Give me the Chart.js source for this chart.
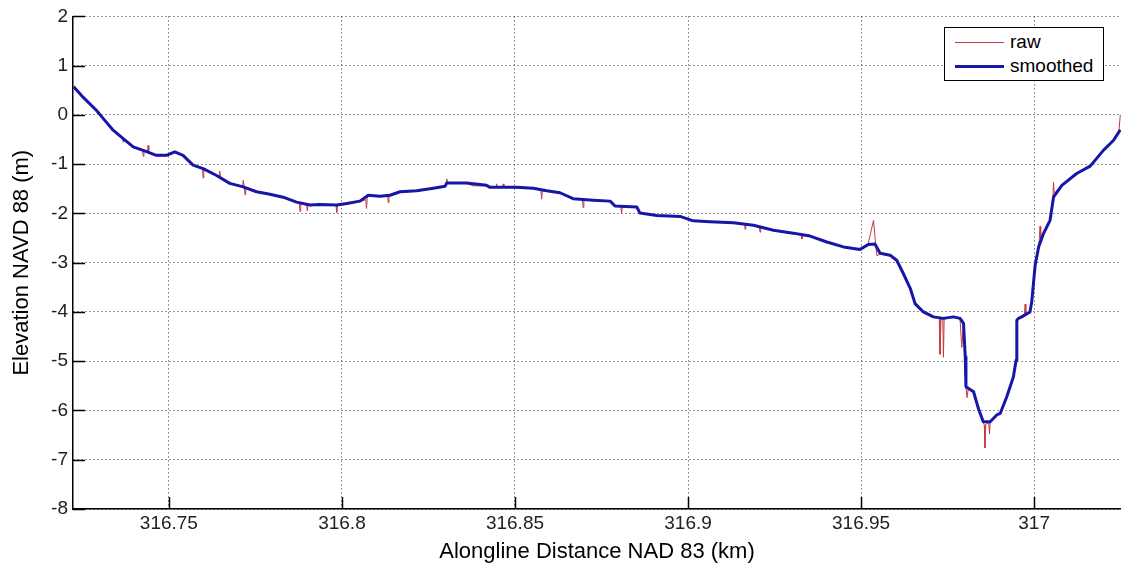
<!DOCTYPE html>
<html>
<head>
<meta charset="utf-8">
<script src="https://cdn.jsdelivr.net/npm/chart.js@4.4.1/dist/chart.umd.min.js"></script>
<style>
  html, body { margin: 0; padding: 0; background: #fff; }
  #wrap { position: relative; width: 1121px; height: 565px; }
  #profileChart { display: block; }
  .legend-box {
    position: absolute; left: 944px; top: 27px; width: 158px; height: 52px;
    border: 1px solid #000; background: #fff;
    font-family: 'Liberation Sans', Arial, sans-serif; font-size: 19px; color: #000;
  }
  .legend-row { position: absolute; left: 0; height: 22px; width: 100%; }
  .legend-swatch { position: absolute; left: 10px; width: 49px; top: 50%; }
  .legend-text { position: absolute; left: 65px; top: 0; line-height: 22px; }
</style>
</head>
<body>
<div id="wrap">
  <canvas id="profileChart" width="1121" height="565"></canvas>
  <div class="legend-box" id="profileLegend"></div>
</div>
<script>
// axis ranges and ticks
const X_MIN = 316.7223;
const X_MAX = 317.0251;
const xTicks = [316.75, 316.8, 316.85, 316.9, 316.95, 317];
const yTicks = [-8, -7, -6, -5, -4, -3, -2, -1, 0, 1, 2];

// smoothed profile (km, m)
const smoothX = [
  316.7225, 316.7252, 316.7291, 316.7310, 316.7339, 316.7368, 316.7397, 316.7426, 316.7464, 316.7493,
  316.7517, 316.7541, 316.7570, 316.7599, 316.7638, 316.7676, 316.7715, 316.7753, 316.7792, 316.7830,
  316.7869, 316.7908, 316.7936, 316.7985, 316.8014, 316.8052, 316.8076, 316.8110, 316.8139, 316.8168,
  316.8216, 316.8264, 316.8298, 316.8303, 316.8360, 316.8418, 316.8428, 316.8505, 316.8553, 316.8592,
  316.8630, 316.8668, 316.8726, 316.8775, 316.8789, 316.8852, 316.8861, 316.8910, 316.8977, 316.9015,
  316.9064, 316.9131, 316.9189, 316.9247, 316.9304, 316.9353, 316.9401, 316.9449, 316.9497, 316.9521,
  316.9540, 316.9555, 316.9584, 316.9603, 316.9622, 316.9642, 316.9656, 316.9680, 316.9709, 316.9738,
  316.9767, 316.9786, 316.9796, 316.9801, 316.9803, 316.9825, 316.9839, 316.9853, 316.9873, 316.9892,
  316.9902, 316.9921, 316.9940, 316.9948, 316.9950, 316.9955, 316.9964, 316.9988, 316.9993, 317.0003,
  317.0013, 317.0027, 317.0046, 317.0056, 317.0080, 317.0123, 317.0162, 317.0200, 317.0229, 317.0249,
];
const smoothY = [
  0.57, 0.36, 0.09, -0.07, -0.31, -0.48, -0.65, -0.72, -0.82, -0.82,
  -0.75, -0.82, -1.02, -1.09, -1.23, -1.39, -1.46, -1.56, -1.61, -1.67,
  -1.77, -1.83, -1.82, -1.83, -1.80, -1.75, -1.63, -1.65, -1.63, -1.56,
  -1.54, -1.49, -1.45, -1.38, -1.38, -1.43, -1.47, -1.47, -1.49, -1.54,
  -1.58, -1.70, -1.73, -1.75, -1.85, -1.87, -1.99, -2.04, -2.06, -2.15,
  -2.17, -2.19, -2.24, -2.34, -2.40, -2.46, -2.58, -2.68, -2.73, -2.63,
  -2.62, -2.81, -2.85, -2.95, -3.22, -3.52, -3.83, -4.00, -4.10, -4.13,
  -4.10, -4.13, -4.23, -4.91, -5.52, -5.62, -5.96, -6.23, -6.23, -6.09,
  -6.06, -5.72, -5.32, -4.98, -4.17, -4.13, -4.10, -4.00, -3.80, -3.05,
  -2.68, -2.41, -2.14, -1.67, -1.43, -1.19, -1.04, -0.72, -0.52, -0.30,
];

// raw profile with spikes (km, m)
const rawX = [
  316.7225, 316.7252, 316.7291, 316.7310, 316.7339, 316.7366, 316.7368, 316.7370, 316.7397, 316.7424,
  316.7426, 316.7428, 316.7438, 316.7440, 316.7442, 316.7464, 316.7493, 316.7517, 316.7541, 316.7570,
  316.7597, 316.7599, 316.7601, 316.7638, 316.7645, 316.7647, 316.7649, 316.7676, 316.7713, 316.7715,
  316.7718, 316.7720, 316.7722, 316.7753, 316.7792, 316.7830, 316.7869, 316.7877, 316.7879, 316.7881,
  316.7898, 316.7900, 316.7902, 316.7936, 316.7983, 316.7985, 316.7987, 316.8014, 316.8052, 316.8069,
  316.8071, 316.8073, 316.8076, 316.8110, 316.8132, 316.8134, 316.8136, 316.8168, 316.8216, 316.8264,
  316.8298, 316.8301, 316.8303, 316.8305, 316.8360, 316.8380, 316.8418, 316.8428, 316.8445, 316.8447,
  316.8449, 316.8464, 316.8466, 316.8468, 316.8505, 316.8553, 316.8575, 316.8577, 316.8579, 316.8592,
  316.8630, 316.8668, 316.8695, 316.8697, 316.8699, 316.8726, 316.8775, 316.8789, 316.8806, 316.8808,
  316.8810, 316.8852, 316.8861, 316.8910, 316.8977, 316.9015, 316.9064, 316.9131, 316.9163, 316.9165,
  316.9167, 316.9189, 316.9206, 316.9208, 316.9210, 316.9247, 316.9304, 316.9327, 316.9329, 316.9331,
  316.9353, 316.9401, 316.9449, 316.9497, 316.9521, 316.9536, 316.9542, 316.9546, 316.9555, 316.9584,
  316.9603, 316.9622, 316.9642, 316.9656, 316.9680, 316.9709, 316.9726, 316.9728, 316.9731, 316.9736,
  316.9738, 316.9740, 316.9767, 316.9786, 316.9791, 316.9796, 316.9801, 316.9803, 316.9806, 316.9810,
  316.9825, 316.9839, 316.9853, 316.9856, 316.9858, 316.9860, 316.9869, 316.9871, 316.9873, 316.9892,
  316.9902, 316.9921, 316.9940, 316.9948, 316.9950, 316.9955, 316.9964, 316.9972, 316.9974, 316.9976,
  316.9988, 316.9993, 317.0003, 317.0013, 317.0015, 317.0017, 317.0019, 317.0027, 317.0046, 317.0054,
  317.0056, 317.0058, 317.0080, 317.0123, 317.0162, 317.0200, 317.0229, 317.0245, 317.0249,
];
const rawY = [
  0.60, 0.37, 0.10, -0.08, -0.30, -0.47, -0.55, -0.49, -0.66, -0.73,
  -0.84, -0.73, -0.76, -0.62, -0.77, -0.83, -0.83, -0.74, -0.83, -1.01,
  -1.08, -1.28, -1.09, -1.24, -1.26, -1.14, -1.28, -1.38, -1.45, -1.33,
  -1.47, -1.62, -1.48, -1.55, -1.62, -1.66, -1.78, -1.80, -1.96, -1.81,
  -1.83, -1.95, -1.83, -1.83, -1.84, -1.98, -1.84, -1.81, -1.76, -1.72,
  -1.90, -1.70, -1.63, -1.66, -1.64, -1.78, -1.63, -1.57, -1.55, -1.50,
  -1.45, -1.40, -1.30, -1.38, -1.39, -1.44, -1.44, -1.47, -1.47, -1.40,
  -1.47, -1.47, -1.40, -1.47, -1.48, -1.50, -1.53, -1.71, -1.54, -1.55,
  -1.59, -1.70, -1.72, -1.88, -1.73, -1.73, -1.76, -1.85, -1.86, -2.00,
  -1.87, -1.88, -1.99, -2.05, -2.06, -2.16, -2.17, -2.19, -2.21, -2.32,
  -2.22, -2.25, -2.28, -2.38, -2.29, -2.35, -2.41, -2.44, -2.52, -2.45,
  -2.47, -2.58, -2.68, -2.74, -2.60, -2.14, -2.62, -2.86, -2.82, -2.86,
  -2.94, -3.24, -3.50, -3.85, -4.02, -4.11, -4.12, -4.86, -4.14, -4.12,
  -4.92, -4.13, -4.10, -4.14, -4.72, -4.25, -4.92, -5.50, -5.74, -5.55,
  -5.63, -5.97, -6.24, -6.30, -6.76, -6.28, -6.25, -6.48, -6.24, -6.08,
  -6.05, -5.73, -5.31, -4.97, -4.16, -4.12, -4.08, -4.05, -3.84, -4.04,
  -3.99, -3.79, -3.04, -2.66, -2.52, -2.26, -2.50, -2.40, -2.13, -1.72,
  -1.37, -1.60, -1.42, -1.18, -1.05, -0.71, -0.50, -0.32, 0.00,
];

const FONT_FAMILY = "'Liberation Sans', Arial, sans-serif";

const toPoints = (xs, ys) => xs.map((x, i) => ({ x, y: ys[i] }));

// matlab-style tick marks pointing into the plot
const innerTicks = {
  id: 'innerTicks',
  afterDraw(chart) {
    const { ctx, chartArea, scales } = chart;
    const len = 12;
    ctx.save();
    ctx.strokeStyle = '#000';
    ctx.lineWidth = 1.5;
    ctx.beginPath();
    xTicks.forEach((v) => {
      const px = Math.round(scales.x.getPixelForValue(v)) + 0.5;
      ctx.moveTo(px, chartArea.bottom);
      ctx.lineTo(px, chartArea.bottom - len);
    });
    yTicks.forEach((v) => {
      const py = Math.round(scales.y.getPixelForValue(v)) + 0.5;
      ctx.moveTo(chartArea.left, py);
      ctx.lineTo(chartArea.left + len, py);
    });
    ctx.stroke();
    ctx.restore();
  },
};

const datasets = [
  {
    label: 'raw',
    data: toPoints(rawX, rawY),
    borderColor: '#c43b3b',
    borderWidth: 1,
    pointRadius: 0,
    tension: 0,
    order: 2,
  },
  {
    label: 'smoothed',
    data: toPoints(smoothX, smoothY),
    borderColor: '#1616a8',
    borderWidth: 3,
    borderJoinStyle: 'round',
    pointRadius: 0,
    tension: 0,
    order: 1,
  },
];

const gridStyle = { color: '#333', lineWidth: 1, drawTicks: false, tickLength: 0 };
const borderStyle = { color: '#000', width: 1.5, dash: [1, 3] };

new Chart(document.getElementById('profileChart'), {
  type: 'line',
  data: { datasets },
  options: {
    responsive: false,
    animation: false,
    devicePixelRatio: 1,
    layout: { padding: { top: 16, left: 0, right: 0, bottom: 0 } },
    plugins: {
      legend: { display: false },
      tooltip: { enabled: false },
    },
    scales: {
      x: {
        type: 'linear',
        min: X_MIN,
        max: X_MAX,
        afterBuildTicks(scale) {
          scale.ticks = xTicks.map((value) => ({ value }));
        },
        afterFit(scale) {
          scale.height = 56;
        },
        grid: gridStyle,
        border: borderStyle,
        ticks: {
          color: '#222',
          padding: 3,
          maxRotation: 0,
          font: { family: FONT_FAMILY, size: 19 },
          callback: (value) => String(Number(Number(value).toFixed(2))),
        },
        title: {
          display: true,
          text: 'Alongline Distance NAD 83 (km)',
          color: '#000',
          padding: { top: 0, bottom: 0 },
          font: { family: FONT_FAMILY, size: 22 },
        },
      },
      y: {
        min: -8,
        max: 2,
        afterBuildTicks(scale) {
          scale.ticks = yTicks.map((value) => ({ value }));
        },
        afterFit(scale) {
          scale.width = 73;
        },
        grid: gridStyle,
        border: borderStyle,
        ticks: {
          color: '#222',
          padding: 5,
          font: { family: FONT_FAMILY, size: 19 },
        },
        title: {
          display: true,
          text: 'Elevation NAVD 88 (m)',
          color: '#000',
          padding: { top: 9, bottom: 0 },
          font: { family: FONT_FAMILY, size: 22 },
        },
      },
    },
  },
  plugins: [innerTicks],
});

// legend box, top right inside the plot
const legendBox = document.getElementById('profileLegend');
datasets.forEach((ds, i) => {
  const row = document.createElement('div');
  row.className = 'legend-row';
  row.style.top = `${3 + i * 24}px`;
  const swatch = document.createElement('div');
  swatch.className = 'legend-swatch';
  swatch.style.borderTop = `${ds.borderWidth}px solid ${ds.borderColor}`;
  swatch.style.marginTop = `${-ds.borderWidth / 2}px`;
  const text = document.createElement('span');
  text.className = 'legend-text';
  text.textContent = ds.label;
  row.appendChild(swatch);
  row.appendChild(text);
  legendBox.appendChild(row);
});
</script>
</body>
</html>
